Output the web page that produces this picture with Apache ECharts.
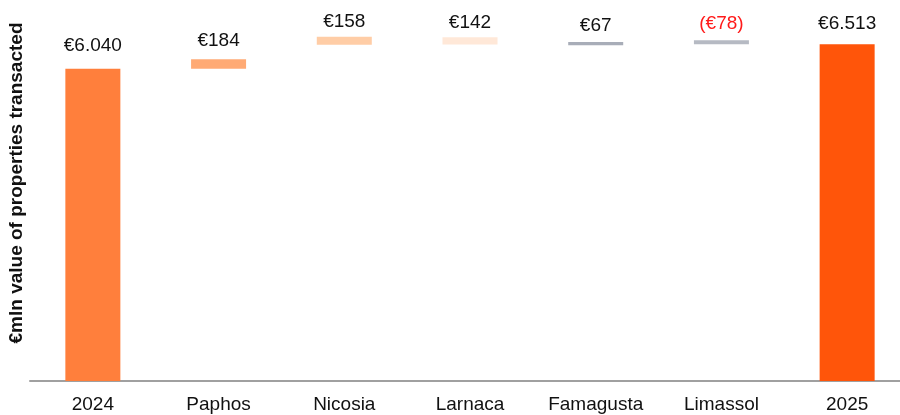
<!DOCTYPE html>
<html>
<head>
<meta charset="utf-8">
<script src="https://cdn.jsdelivr.net/npm/echarts@6/dist/echarts.min.js"></script>
<style>
  html, body { margin: 0; padding: 0; background: #fff; }
  #chart { width: 900px; height: 415px; }
</style>
</head>
<body>
<div id="chart"></div>
<script>
// categories and values
var categories = ['2024', 'Paphos', 'Nicosia', 'Larnaca', 'Famagusta', 'Limassol', '2025']
// where each floating bar starts (as drawn in the source)
var bases = [0, 6040, 6500, 6505, 6490, 6513, 0]
// bar heights (absolute size of each step)
var steps = [6040, 184, 158, 142, 67, 78, 6513]
var valueLabels = ['€6.040', '€184', '€158', '€142', '€67', '(€78)', '€6.513']
var barColors = ['#ff7f3c', '#ffaa74', '#ffcda6', '#ffe8d8', '#a8adb8', '#b6bac3', '#ff550a']
var labelColors = ['#111', '#111', '#111', '#111', '#111', '#ff1a1a', '#111']
var labelGaps = [13, 9, 5, 5, 7, 7, 11]

var myChart = echarts.init(document.getElementById('chart'))
var font = 'Liberation Sans, Arial, sans-serif'

var option = {
  animation: false,
  grid: {
    left: 30,
    right: -10,
    top: 19,
    bottom: 34,
    outerBoundsMode: 'none'
  },
  xAxis: {
    type: 'category',
    data: categories,
    axisTick: { show: false },
    axisLine: {
      lineStyle: { color: '#a0a0a0', width: 2 }
    },
    axisLabel: {
      color: '#111',
      fontFamily: font,
      fontSize: 19,
      margin: 14
    }
  },
  yAxis: {
    type: 'value',
    min: 0,
    max: 7000,
    axisLine: { show: false },
    axisTick: { show: false },
    axisLabel: { show: false },
    splitLine: { show: false }
  },
  graphic: [
    {
      type: 'text',
      x: 17,
      y: 183,
      rotation: Math.PI / 2,
      style: {
        text: '€mln value of properties transacted',
        font: 'bold 19px ' + font,
        fill: '#111',
        align: 'center',
        verticalAlign: 'middle'
      }
    }
  ],
  series: [
    {
      name: 'base',
      type: 'bar',
      stack: 'wf',
      barWidth: 55,
      silent: true,
      itemStyle: { color: 'transparent' },
      data: bases
    },
    {
      name: 'step',
      type: 'bar',
      stack: 'wf',
      barWidth: 55,
      data: steps.map(function (v, i) {
        return {
          value: v,
          itemStyle: { color: barColors[i] },
          label: {
            show: true,
            position: 'top',
            distance: labelGaps[i],
            color: labelColors[i],
            fontFamily: font,
            fontSize: 19,
            formatter: valueLabels[i]
          }
        }
      })
    }
  ]
}
myChart.setOption(option)
</script>
</body>
</html>
